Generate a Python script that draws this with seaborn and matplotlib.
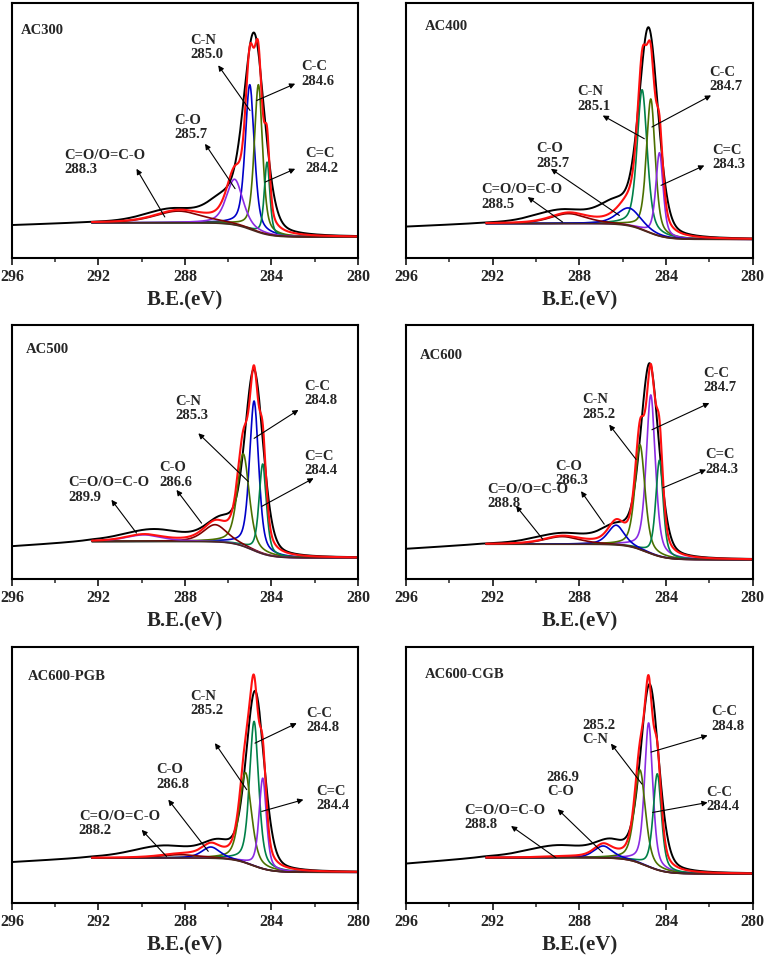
import matplotlib
matplotlib.use("Agg")
import matplotlib.pyplot as plt
import seaborn as sns
import numpy as np

# ---- data (x in eV, y in axes fraction) ----
titles = ["AC300", "AC400", "AC500", "AC600", "AC600-PGB", "AC600-CGB"]

# background: right level, level on the fitted (high BE) side, level of raw data at 296 eV
bg_lo = [0.082, 0.073, 0.083, 0.076, 0.120, 0.114]
bg_hi = [0.138, 0.135, 0.148, 0.137, 0.176, 0.177]
bg_296 = [0.128, 0.122, 0.128, 0.118, 0.159, 0.153]

# fitted components per panel: centre, top (absolute), fwhm, colour
comp_center = [
    [285.0, 284.6, 284.2, 285.7, 288.3],
    [285.1, 284.7, 284.3, 285.7, 288.5],
    [284.8, 285.3, 284.4, 286.6, 289.9],
    [284.7, 285.2, 284.3, 286.3, 288.8],
    [284.8, 285.2, 284.4, 286.8, 288.2],
    [284.8, 285.2, 284.4, 286.9, 288.8],
]
comp_top = [
    [0.680, 0.680, 0.376, 0.309, 0.184],
    [0.660, 0.624, 0.413, 0.196, 0.174],
    [0.701, 0.493, 0.453, 0.214, 0.174],
    [0.725, 0.529, 0.468, 0.212, 0.167],
    [0.710, 0.510, 0.488, 0.219, 0.189],
    [0.704, 0.520, 0.505, 0.223, 0.180],
]
comp_fwhm = [
    [0.50, 0.45, 0.30, 0.90, 2.6],
    [0.55, 0.48, 0.40, 1.30, 2.0],
    [0.50, 0.65, 0.40, 1.30, 2.0],
    [0.50, 0.55, 0.40, 0.90, 2.0],
    [0.50, 0.65, 0.40, 1.00, 2.2],
    [0.45, 0.60, 0.45, 1.00, 2.0],
]
BLUE, OLIVE, GREEN, VIOLET, BROWN = "#0000c8", "#4b7000", "#008048", "#8a2be2", "#800000"
comp_color = [
    [BLUE, OLIVE, GREEN, VIOLET, BROWN],
    [GREEN, OLIVE, VIOLET, BLUE, BROWN],
    [BLUE, OLIVE, GREEN, BROWN, VIOLET],
    [VIOLET, OLIVE, GREEN, BLUE, BROWN],
    [GREEN, OLIVE, VIOLET, BLUE, BROWN],
    [VIOLET, OLIVE, GREEN, BLUE, BROWN],
]

# raw spectrum approximated by a few broad peaks: centre, height above bg, fwhm
raw_center = [
    [284.8, 286.2, 288.6],
    [284.8, 286.3, 288.8],
    [284.8, 286.3, 289.5],
    [284.75, 286.3, 288.8],
    [284.75, 286.5, 289.0],
    [284.75, 286.6, 289.0],
]
raw_height = [
    [0.76, 0.08, 0.05],
    [0.79, 0.07, 0.05],
    [0.70, 0.08, 0.045],
    [0.74, 0.06, 0.04],
    [0.68, 0.05, 0.045],
    [0.71, 0.05, 0.045],
]
raw_fwhm = [
    [1.15, 1.7, 3.0],
    [1.05, 1.8, 3.0],
    [1.0, 1.7, 3.2],
    [1.0, 1.6, 3.0],
    [1.0, 1.6, 3.4],
    [1.0, 1.6, 3.4],
]

# annotations: text, text x, text top y, arrow tail (x, y), arrow head (x, y)
labels = [
    [("C-N\n285.0", 287.74, 0.880, 284.99, 0.579, 286.46, 0.756),
     ("C-C\n284.6", 282.60, 0.775, 284.68, 0.618, 282.90, 0.684),
     ("C-O\n285.7", 288.50, 0.566, 285.68, 0.272, 287.07, 0.448),
     ("C=O/O=C-O\n288.3", 293.56, 0.429, 288.93, 0.161, 290.24, 0.350),
     ("C=C\n284.2", 282.44, 0.435, 284.29, 0.298, 282.90, 0.350)],
    [("C-N\n285.1", 288.08, 0.677, 285.00, 0.468, 286.92, 0.559),
     ("C-C\n284.7", 282.00, 0.755, 284.65, 0.514, 281.92, 0.638),
     ("C=C\n284.3", 281.85, 0.448, 284.23, 0.285, 282.23, 0.363),
     ("C-O\n285.7", 289.97, 0.455, 286.15, 0.167, 289.31, 0.350),
     ("C=O/O=C-O\n288.5", 292.54, 0.294, 288.77, 0.141, 290.38, 0.239)],
    [("C-N\n285.3", 288.46, 0.725, 285.07, 0.384, 287.38, 0.574),
     ("C-C\n284.8", 282.49, 0.784, 284.80, 0.554, 282.75, 0.666),
     ("C=C\n284.4", 282.49, 0.509, 284.45, 0.286, 282.05, 0.397),
     ("C-O\n286.6", 289.19, 0.463, 287.23, 0.220, 288.39, 0.351),
     ("C=O/O=C-O\n289.9", 293.41, 0.404, 290.24, 0.181, 291.40, 0.312)],
    [("C-N\n285.2", 287.88, 0.732, 285.38, 0.471, 286.62, 0.608),
     ("C-C\n284.7", 282.28, 0.837, 284.65, 0.588, 282.00, 0.693),
     ("C=C\n284.3", 282.18, 0.516, 284.15, 0.359, 282.15, 0.431),
     ("C-O\n286.3", 289.11, 0.470, 286.85, 0.216, 287.92, 0.346),
     ("C=O/O=C-O\n288.8", 292.23, 0.380, 289.69, 0.157, 290.92, 0.288)],
    [("C-N\n285.2", 287.77, 0.833, 285.14, 0.443, 286.61, 0.625),
     ("C-C\n284.8", 282.39, 0.768, 284.76, 0.625, 282.83, 0.703),
     ("C=C\n284.4", 281.93, 0.462, 284.45, 0.358, 282.52, 0.404),
     ("C-O\n286.8", 289.34, 0.547, 286.92, 0.202, 288.77, 0.404),
     ("C=O/O=C-O\n288.2", 292.91, 0.365, 288.85, 0.182, 290.00, 0.286)],
    [("285.2\nC-N", 287.85, 0.721, 285.11, 0.465, 286.54, 0.623),
     ("C-C\n284.8", 281.92, 0.773, 284.69, 0.590, 282.08, 0.655),
     ("C-C\n284.4", 282.15, 0.459, 284.62, 0.354, 282.08, 0.393),
     ("286.9\nC-O", 289.50, 0.518, 286.92, 0.197, 289.00, 0.367),
     ("C=O/O=C-O\n288.8", 293.30, 0.389, 289.08, 0.177, 291.15, 0.301)],
]
title_pos = [(295.57, 0.919), (295.15, 0.932), (295.34, 0.928),
             (295.38, 0.908), (295.26, 0.911), (295.15, 0.917)]

# axes rectangles in figure fraction
axes_rects = [
    [0.0156, 0.7307, 0.451, 0.266], [0.5293, 0.7307, 0.452, 0.266],
    [0.0156, 0.3956, 0.451, 0.265], [0.5293, 0.3956, 0.452, 0.265],
    [0.0156, 0.0574, 0.451, 0.267], [0.5293, 0.0574, 0.452, 0.267],
]


def pv(x, c, h, w, m=0.5):
    g = np.exp(-4 * np.log(2) * (x - c) ** 2 / w ** 2)
    lor = 1.0 / (1 + 4 * (x - c) ** 2 / w ** 2)
    return h * (m * lor + (1 - m) * g)


def background(x, lo, hi):
    return lo + (hi - lo) / (1 + np.exp(-(x - 284.9) / 0.45))


sns.set_theme(style="white")
plt.rcParams['font.family'] = ['Liberation Serif', 'DejaVu Serif']
plt.rcParams['font.weight'] = 'bold'

fig = plt.figure(figsize=(7.67, 9.58), dpi=100)
x_raw = np.linspace(280, 296, 1600)
x_fit = np.linspace(280, 292.3, 1300)

for i, rect in enumerate(axes_rects):
    ax = fig.add_axes(rect)
    lo, hi = bg_lo[i], bg_hi[i]

    # raw data
    bg_r = background(x_raw, lo, hi) - (hi - bg_296[i]) * np.clip(x_raw - 292.3, 0, None) / 3.7
    y_raw = bg_r.copy()
    for c, h, w in zip(raw_center[i], raw_height[i], raw_fwhm[i]):
        y_raw += pv(x_raw, c, h, w, m=0.3)

    bg_f = background(x_fit, lo, hi)
    env = bg_f.copy()
    comps = []
    for c, t, w in zip(comp_center[i], comp_top[i], comp_fwhm[i]):
        p = pv(x_fit, c, t - background(np.array(c), lo, hi), w)
        comps.append(p)
        env += p

    sns.lineplot(x=x_raw, y=y_raw, ax=ax, color="black", lw=1.4, sort=False, estimator=None)
    for p, col in zip(comps, comp_color[i]):
        sns.lineplot(x=x_fit, y=bg_f + p, ax=ax, color=col, lw=1.2, sort=False, estimator=None)
    sns.lineplot(x=x_fit, y=bg_f, ax=ax, color="#4a2a20", lw=1.2, sort=False, estimator=None)
    sns.lineplot(x=x_fit, y=env, ax=ax, color="#ff1010", lw=1.5, sort=False, estimator=None)

    for txt, tx, ty, ax0, ay0, ax1, ay1 in labels[i]:
        ax.text(tx, ty, txt, fontsize=10.5, fontweight='bold', ha='left', va='top', linespacing=1.15)
        ax.annotate("", xy=(ax1, ay1), xytext=(ax0, ay0),
                    arrowprops=dict(arrowstyle='-|>', color='black', lw=0.8,
                                    mutation_scale=8, shrinkA=0, shrinkB=0))
    ax.text(title_pos[i][0], title_pos[i][1], titles[i], fontsize=10.5,
            fontweight='bold', ha='left', va='top')

    ax.set_xlim(296, 280)
    ax.set_ylim(0, 1)
    ax.set_xticks(np.arange(296, 279, -4))
    ax.set_xticks(np.arange(294, 279, -4), minor=True)
    ax.set_yticks([])
    ax.tick_params(axis='x', which='major', direction='out', length=5, width=1.3,
                   bottom=True, labelsize=11.5, pad=3)
    ax.tick_params(axis='x', which='minor', direction='out', length=3, width=1.1, bottom=True)
    for lab in ax.get_xticklabels():
        lab.set_fontweight('bold')
    ax.set_xlabel("B.E.(eV)", fontsize=15, fontweight='bold', labelpad=4)
    ax.set_ylabel("")
    for s in ax.spines.values():
        s.set_color('black')
        s.set_linewidth(1.5)

fig.savefig("out.png", dpi=100)
